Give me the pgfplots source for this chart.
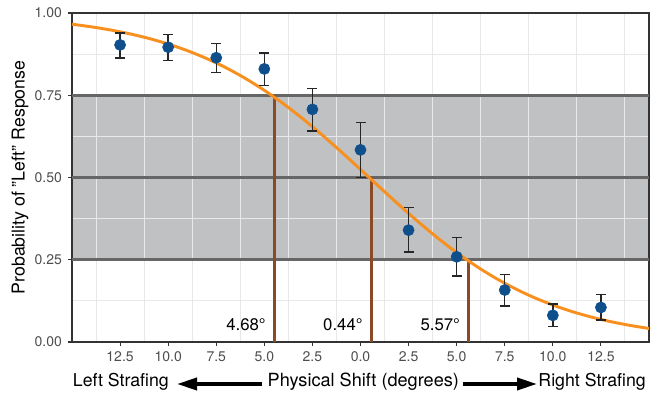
\documentclass[border=0pt]{standalone}
\usepackage{pgfplots}
\pgfplotsset{compat=1.18}
\usepackage{pgfplotstable}
\usepackage{fontspec}
\setmainfont{TeX Gyre Heros}
\usetikzlibrary{arrows.meta}
\definecolor{bandc}{HTML}{C0C1C3}
\definecolor{hlinec}{HTML}{666666}
\definecolor{fitc}{HTML}{F7901E}
\definecolor{vlinec}{HTML}{8B4A26}
\definecolor{ptc}{HTML}{0E4F8C}
\definecolor{gridc}{HTML}{E8E8E8}
\definecolor{tickc}{HTML}{4D4D4D}
\definecolor{framec}{HTML}{333333}

\pgfplotstableread{
x y ep em
-12.5 0.903 0.036 0.040
-10 0.896 0.039 0.041
-7.5 0.864 0.044 0.045
-5 0.830 0.049 0.050
-2.5 0.707 0.064 0.066
0 0.584 0.083 0.084
2.5 0.340 0.069 0.066
5 0.259 0.059 0.058
7.5 0.158 0.047 0.049
10 0.081 0.035 0.034
12.5 0.105 0.039 0.038
}\obs

\pgfplotstableread{
x y
-15 0.96591
-14 0.95802
-13 0.94840
-12 0.93672
-11 0.92263
-10 0.90567
-9 0.88550
-8 0.86165
-7 0.83378
-6 0.80156
-5 0.76489
-4 0.72376
-3 0.67847
-2 0.62955
-1 0.57785
0 0.52433
1 0.47027
2 0.41690
3 0.36542
4 0.31684
5 0.27194
6 0.23124
7 0.19500
8 0.16325
9 0.13580
10 0.11233
11 0.09250
12 0.07586
13 0.06201
14 0.05055
15 0.04112
}\fit

\begin{document}
\begin{tikzpicture}
\begin{axis}[
  set layers,
  scale only axis, width=432.75pt, height=246.75pt,
  xmin=-15, xmax=15, ymin=0, ymax=1,
  xtick={-12.5,-10,-7.5,-5,-2.5,0,2.5,5,7.5,10,12.5},
  xticklabels={12.5,10.0,7.5,5.0,2.5,0.0,2.5,5.0,7.5,10.0,12.5},
  ytick={0,0.25,0.5,0.75,1},
  yticklabels={0.00,0.25,0.50,0.75,1.00},
  minor xtick={-13.75,-11.25,-8.75,-6.25,-3.75,-1.25,1.25,3.75,6.25,8.75,11.25,13.75},
  minor ytick={0.125,0.375,0.625,0.875},
  grid=minor,
  minor grid style={gridc, line width=0.75pt},
  major tick length=3pt, minor tick length=0pt,
  tick align=outside,
  xtick pos=bottom, ytick pos=left,
  major tick style={framec, line width=0.8pt},
  axis line style={framec, line width=1pt},
  ticklabel style={font=\fontsize{10.5}{12}\selectfont, text=tickc},
  xticklabel style={yshift=-1pt},
  yticklabel style={xshift=-1pt},
  clip=true,
]
% band
\addplot[on layer=axis background, fill=bandc, draw=none] coordinates {(-15,0.25) (15,0.25) (15,0.75) (-15,0.75) (-15,0.25)};
% horizontal lines
\addplot[hlinec, line width=2.2pt] coordinates {(-15,0.25) (15,0.25)};
\addplot[hlinec, line width=2.2pt] coordinates {(-15,0.5) (15,0.5)};
\addplot[hlinec, line width=2.2pt] coordinates {(-15,0.75) (15,0.75)};
% vertical lines
\addplot[vlinec, line width=2pt] coordinates {(-4.48,0) (-4.48,0.75)};
\addplot[vlinec, line width=2pt] coordinates {(0.56,0) (0.56,0.5)};
\addplot[vlinec, line width=2pt] coordinates {(5.62,0) (5.62,0.25)};
% fit
\addplot[fitc, line width=2.2pt, smooth] table[x=x,y=y] {\fit};
% error bars
\addplot[only marks, mark=none, forget plot,
  error bars/.cd, y dir=both, y explicit,
  error bar style={black!85, line width=1.1pt},
  error mark options={rotate=90, mark size=3.75pt, line width=1.1pt, black!85}]
  table[x=x, y=y, y error plus=ep, y error minus=em] {\obs};
% points
\addplot[only marks, mark=*, mark size=4.2pt, mark options={fill=ptc, draw=ptc}] table[x=x,y=y] {\obs};

% degree labels
\node[anchor=base east, inner sep=0pt, xshift=-6.3pt, font=\fontsize{12.6}{14}\selectfont] at (axis cs:-4.48,0.0343) {4.68°};
\node[anchor=base east, inner sep=0pt, xshift=-6.3pt, font=\fontsize{12.6}{14}\selectfont] at (axis cs:0.56,0.0343) {0.44°};
\node[anchor=base east, inner sep=0pt, xshift=-6.3pt, font=\fontsize{12.6}{14}\selectfont] at (axis cs:5.62,0.0343) {5.57°};
\end{axis}
% labels outside (pt coordinates relative to axis origin)
\node[rotate=90, anchor=center, font=\fontsize{13.3}{15}\selectfont] at (-39pt,123.4pt) {Probability of "Left" Response};
\node[anchor=base west, inner sep=0pt, font=\fontsize{13.3}{15}\selectfont] at (0.5pt,-33.5pt) {Left Strafing};
\node[anchor=base, inner sep=0pt, font=\fontsize{13.6}{15}\selectfont] at (218.5pt,-33.5pt) {Physical Shift (degrees)};
\node[anchor=base east, inner sep=0pt, font=\fontsize{13.3}{15}\selectfont] at (430.5pt,-33.5pt) {Right Strafing};
\draw[line width=2.8pt, -{Triangle[length=15pt, width=9pt]}] (142.5pt,-31.5pt) -- (78.75pt,-31.5pt);
\draw[line width=2.8pt, -{Triangle[length=15pt, width=9pt]}] (293.25pt,-31.5pt) -- (348.75pt,-31.5pt);
\pgfresetboundingbox
\path[use as bounding box] (-54pt,-39.75pt) rectangle (441pt,256.5pt);
\end{tikzpicture}
\end{document}
